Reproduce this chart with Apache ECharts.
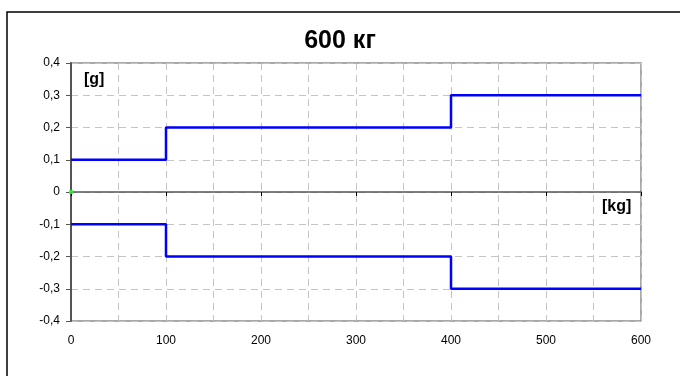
<!DOCTYPE html>
<html>
<head>
<meta charset="utf-8">
<script src="https://cdn.jsdelivr.net/npm/echarts@6/dist/echarts.min.js"></script>
<style>html,body{margin:0;padding:0;background:#fff;}#c{width:680px;height:376px;}</style>
</head>
<body>
<div id="c"></div>
<script>
var titleText = '600 кг';
var stepX = [0, 100, 400, 600];
var upperValues = [0.1, 0.2, 0.3, 0.3];
var lowerValues = [-0.1, -0.2, -0.3, -0.3];
var originPoint = [[0, 0]];
var yUnit = '[g]';
var xUnit = '[kg]';

function pairs(xs, ys) { return xs.map(function (x, i) { return [x, ys[i]]; }); }
function fmtY(v) {
  var r = Math.round(v * 10) / 10;
  if (r === 0) return '0';
  return String(r).replace('.', ',');
}

var chart = echarts.init(document.getElementById('c'), null, {renderer: 'canvas'});
chart.setOption({
  animation: false,
  backgroundColor: '#fff',
  title: {
    text: titleText, left: 'center', top: 24,
    textStyle: {fontFamily: 'Liberation Sans, Arial', fontSize: 25, fontWeight: 'bold', color: '#000'}
  },
  grid: {left: 71, right: 39, top: 63, bottom: 55, show: true, borderColor: '#8c8c8c', borderWidth: 1.5, backgroundColor: 'transparent'},
  xAxis: [{
    type: 'value', min: 0, max: 600, interval: 50, position: 'bottom',
    axisLine: {show: false, onZero: false},
    axisTick: {show: false},
    axisLabel: {
      margin: 14, color: '#000', fontSize: 12, fontFamily: 'Liberation Sans, Arial',
      formatter: function (v) { return v % 100 === 0 ? String(v) : ''; }
    },
    splitLine: {show: true, lineStyle: {color: '#c4c4c4', type: [7, 5], width: 1}}
  }, {
    type: 'value', min: 0, max: 600, interval: 100, position: 'bottom',
    axisLine: {show: true, onZero: true, lineStyle: {color: '#555', width: 1.5}},
    axisTick: {show: true, length: 4, lineStyle: {color: '#000', width: 1}},
    axisLabel: {show: false},
    splitLine: {show: false}
  }],
  yAxis: {
    type: 'value', min: -0.4, max: 0.4, interval: 0.1,
    axisLine: {show: true, onZero: false, lineStyle: {color: '#555', width: 2}},
    axisTick: {show: true, length: 5, lineStyle: {color: '#555', width: 1}},
    axisLabel: {margin: 11, color: '#000', fontSize: 12, fontFamily: 'Liberation Sans, Arial', formatter: fmtY},
    splitLine: {show: true, lineStyle: {color: '#c4c4c4', type: [7, 5], width: 1}}
  },
  graphic: [
    {type: 'rect', shape: {x: 7, y: 12, width: 700, height: 400}, style: {fill: null, stroke: '#000', lineWidth: 1.5}, silent: true, z: -1},
    {type: 'text', left: 84, top: 72, style: {text: yUnit, font: 'bold 16px "Liberation Sans", Arial', fill: '#000'}},
    {type: 'text', left: 602, top: 199, style: {text: xUnit, font: 'bold 16px "Liberation Sans", Arial', fill: '#000'}}
  ],
  series: [{
    type: 'line', step: 'end', data: pairs(stepX, upperValues), symbol: 'none',
    lineStyle: {color: '#0000ff', width: 2.5}, z: 5
  }, {
    type: 'line', step: 'end', data: pairs(stepX, lowerValues), symbol: 'none',
    lineStyle: {color: '#0000ff', width: 2.5}, z: 5
  }, {
    type: 'scatter', data: originPoint, symbol: 'rect', symbolSize: 4,
    itemStyle: {color: '#33ff33'}, z: 6
  }]
});
</script>
</body>
</html>
